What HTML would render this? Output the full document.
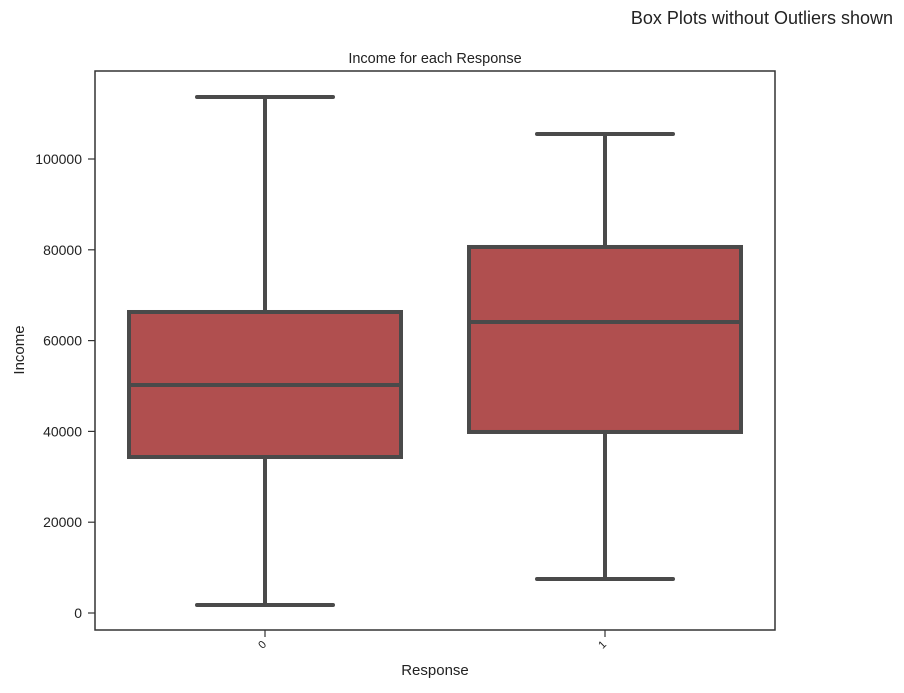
<!DOCTYPE html>
<html><head><meta charset="utf-8"><style>
body{margin:0;background:#fff;}
svg text{font-family:"Liberation Sans",sans-serif;fill:#222;}
</style></head><body>
<svg width="904" height="688" xmlns="http://www.w3.org/2000/svg">
<text x="893" y="24" font-size="18" text-anchor="end">Box Plots without Outliers shown</text>
<text x="435" y="63" font-size="14.5" text-anchor="middle">Income for each Response</text>
<g id="yaxis"></g>
<g id="boxes"></g>
<rect x="95" y="71" width="680" height="559" fill="none" stroke="#333" stroke-width="1.5"/>
<g id="xaxis"></g>
<text x="435" y="675" font-size="15" text-anchor="middle">Response</text>
<text x="24" y="350" font-size="15" text-anchor="middle" transform="rotate(-90 24 350)">Income</text>
</svg>
<script>
const categories=["0","1"];
const whiskerLow=[1760,7490];
const q1=[34360,39870];
const median=[50220,64100];
const q3=[66300,80620];
const whiskerHigh=[113660,105510];
const yTicks=[0,20000,40000,60000,80000,100000];
const ns="http://www.w3.org/2000/svg";
const y=v=>613-v*454/100000;
const x=i=>95+340*(i+0.5);
function mk(t,a,p){const e=document.createElementNS(ns,t);for(const k in a)e.setAttribute(k,a[k]);p.appendChild(e);return e;}
const ya=document.getElementById('yaxis'),xa=document.getElementById('xaxis'),bx=document.getElementById('boxes');
yTicks.forEach(v=>{
 const l=mk('line',{x1:88,x2:95,y1:y(v),y2:y(v),stroke:'#333','stroke-width':1.2},ya);
 
 
 const t=mk('text',{x:82,y:y(v)+5,'font-size':14,'text-anchor':'end'},ya);t.textContent=v;
 
 
});
categories.forEach((c,i)=>{
 const cx=x(i);
 const l=mk('line',{x1:cx,x2:cx,y1:630,y2:637,stroke:'#333','stroke-width':1.2},xa);
 
 
 const t=mk('text',{x:cx+2,y:645,'font-size':11,'text-anchor':'end',transform:`rotate(-45 ${cx+2} 645)`},xa);t.textContent=c;
 
 
 const g=mk('g',{stroke:'#4a4a4a','stroke-width':4,'stroke-linecap':'round'},bx);
 
 
 mk('line',{x1:cx,x2:cx,y1:y(whiskerLow[i]),y2:y(q1[i])},g);
 mk('line',{x1:cx,x2:cx,y1:y(q3[i]),y2:y(whiskerHigh[i])},g);
 mk('line',{x1:cx-68,x2:cx+68,y1:y(whiskerLow[i]),y2:y(whiskerLow[i])},g);
 mk('line',{x1:cx-68,x2:cx+68,y1:y(whiskerHigh[i]),y2:y(whiskerHigh[i])},g);
 mk('rect',{x:cx-136,y:y(q3[i]),width:272,height:y(q1[i])-y(q3[i]),fill:'#b04f4f','stroke-linecap':'butt'},g);
 mk('line',{x1:cx-136,x2:cx+136,y1:y(median[i]),y2:y(median[i]),'stroke-linecap':'butt'},g);
});
</script>
</body></html>
